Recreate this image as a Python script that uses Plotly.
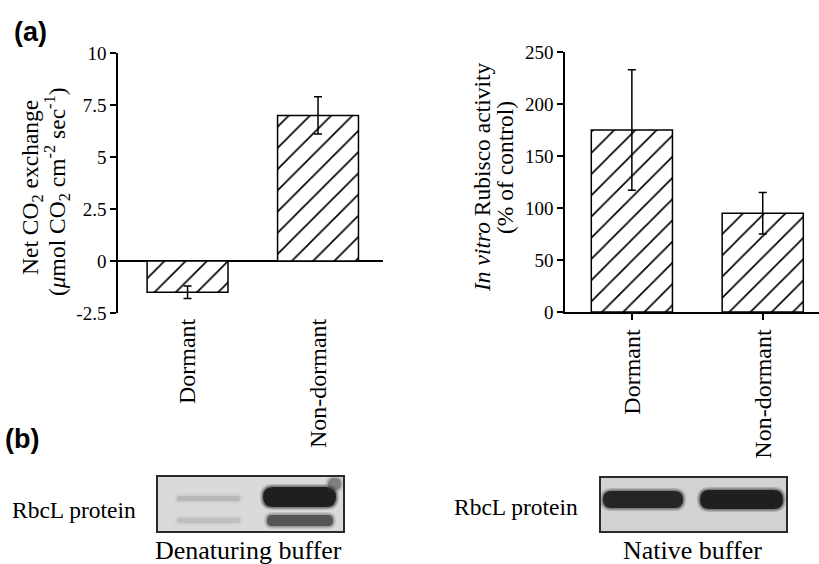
import plotly.graph_objects as go

# ---- data ----
categories = ["Dormant", "Non-dormant"]
co2_values = [-1.5, 7.0]
co2_errors = [0.3, 0.9]
rubisco_values = [175, 95]
rubisco_errors = [58, 20]
co2_ticks = [-2.5, 0, 2.5, 5, 7.5, 10]
co2_ticktext = ["-2.5", "0", "2.5", "5", "7.5", "10"]
rubisco_ticks = [0, 50, 100, 150, 200, 250]

W, H = 819, 564
SERIF = "Liberation Serif"
SANS = "Liberation Sans"


def px(x):
    return x / W


def py(y):
    return 1 - y / H


bar_style = dict(
    color="white",
    line=dict(color="black", width=1.5),
    pattern=dict(shape="/", fgcolor="black", fgopacity=1, bgcolor="white", size=15, solidity=0.11),
)
err_style = dict(type="data", visible=True, color="black", thickness=1.5, width=4)

fig = go.Figure()
fig.add_trace(go.Bar(
    x=categories, y=co2_values, width=0.62, marker=bar_style,
    error_y=dict(array=co2_errors, **err_style), xaxis="x", yaxis="y", showlegend=False,
))
fig.add_trace(go.Bar(
    x=categories, y=rubisco_values, width=0.62, marker=bar_style,
    error_y=dict(array=rubisco_errors, **err_style), xaxis="x2", yaxis="y2", showlegend=False,
))

tickfont = dict(family=SERIF, size=19, color="black")
catfont = dict(family=SERIF, size=24, color="black")
labfont = dict(family=SERIF, size=23.5, color="black")

fig.update_layout(
    width=W, height=H,
    margin=dict(l=0, r=0, t=0, b=0, autoexpand=False),
    paper_bgcolor="white", plot_bgcolor="white",
    xaxis=dict(domain=[px(118), px(383)], anchor="y", range=[-0.533, 1.498],
               showline=False, ticks="", tickangle=-90, tickfont=catfont,
               showgrid=False, zeroline=False),
    yaxis=dict(domain=[py(313), py(53)], anchor="x", range=[-2.5, 10],
               tickvals=co2_ticks, ticktext=co2_ticktext, tickfont=tickfont,
               showline=True, linecolor="black", linewidth=1.5,
               ticks="outside", ticklen=6, tickwidth=1.5, tickcolor="black",
               showgrid=False, zeroline=True, zerolinecolor="black", zerolinewidth=1.5),
    xaxis2=dict(domain=[px(565), 1.0], anchor="y2", range=[-0.511, 1.43],
                showline=True, linecolor="black", linewidth=1.5,
                ticks="outside", ticklen=6, tickwidth=1.5, tickcolor="black",
                tickangle=-90, tickfont=catfont, showgrid=False, zeroline=False),
    yaxis2=dict(domain=[py(312), py(52)], anchor="x2", range=[0, 250],
                tickvals=rubisco_ticks, tickfont=tickfont,
                showline=True, linecolor="black", linewidth=1.5,
                ticks="outside", ticklen=6, tickwidth=1.5, tickcolor="black",
                showgrid=False, zeroline=False),
)

ann = []
# axis titles
ann.append(dict(text="Net CO<sub>2</sub> exchange", x=px(32), y=py(188), textangle=-90,
                font=labfont))
ann.append(dict(text="(<i>μ</i>mol CO<sub>2</sub> cm<sup>-2</sup> sec<sup>-1</sup>)", x=px(57), y=py(192),
                textangle=-90, font=labfont))
ann.append(dict(text="<i>In vitro</i> Rubisco activity", x=px(482), y=py(178), textangle=-90,
                font=labfont))
ann.append(dict(text="(% of control)", x=px(505), y=py(168), textangle=-90, font=labfont))
# panel labels
ann.append(dict(text="<b>(a)</b>", x=px(31), y=py(32), font=dict(family=SANS, size=27, color="black")))
ann.append(dict(text="<b>(b)</b>", x=px(22), y=py(439), font=dict(family=SANS, size=27, color="black")))
# blot labels
ann.append(dict(text="RbcL protein", x=px(74), y=py(510), font=labfont))
ann.append(dict(text="Denaturing buffer", x=px(249), y=py(550), font=dict(family=SERIF, size=26, color="black")))
ann.append(dict(text="RbcL protein", x=px(516), y=py(507), font=labfont))
ann.append(dict(text="Native buffer", x=px(692), y=py(550), font=dict(family=SERIF, size=26, color="black")))
for a in ann:
    a.update(xref="paper", yref="paper", showarrow=False, xanchor="center", yanchor="middle")
fig.update_layout(annotations=ann)

shapes = []


def rect(x0, y0, x1, y1, fill, line_color=None, lw=0, opacity=1.0):
    shapes.append(dict(type="rect", xref="paper", yref="paper",
                       x0=px(x0), x1=px(x1), y0=py(y1), y1=py(y0),
                       fillcolor=fill, opacity=opacity,
                       line=dict(color=line_color or fill, width=lw)))


def band(x0, y0, x1, y1, color, strength):
    # soft band built from layered rounded rectangles
    r = (y1 - y0) / 2
    for grow, op in [(3, 0.18), (1.5, 0.35), (0, 0.9)]:
        a0, a1, b0, b1 = x0 - grow, x1 + grow, y0 - grow, y1 + grow
        rr = r + grow
        path = (f"M {px(a0 + rr)},{py(b0)} L {px(a1 - rr)},{py(b0)} "
                f"Q {px(a1)},{py(b0)} {px(a1)},{py((b0 + b1) / 2)} "
                f"Q {px(a1)},{py(b1)} {px(a1 - rr)},{py(b1)} "
                f"L {px(a0 + rr)},{py(b1)} "
                f"Q {px(a0)},{py(b1)} {px(a0)},{py((b0 + b1) / 2)} "
                f"Q {px(a0)},{py(b0)} {px(a0 + rr)},{py(b0)} Z")
        shapes.append(dict(type="path", xref="paper", yref="paper", path=path,
                           fillcolor=color, opacity=op * strength, line=dict(width=0)))


# denaturing blot
rect(157, 476, 344, 532, "#dadada")
band(177, 496, 240, 501, "#808080", 0.3)
band(177, 518, 240, 523, "#909090", 0.25)
band(263, 487, 336, 507, "#151515", 1.0)
band(267, 515, 333, 526, "#3a3a3a", 0.8)
band(328, 478, 341, 490, "#404040", 0.5)
rect(157, 476, 344, 532, "rgba(0,0,0,0)", "#2a2a2a", 2)
# native blot
rect(600, 477, 787, 532, "#d2d2d2")
band(603, 491, 683, 508, "#1c1c1c", 1.0)
band(700, 490, 783, 509, "#151515", 1.0)
rect(600, 477, 787, 532, "rgba(0,0,0,0)", "#2a2a2a", 2)

fig.update_layout(shapes=shapes)
fig.write_html("out.html", config={"displayModeBar": False},
               post_script="document.body.style.margin='0';document.body.style.overflow='hidden';")
